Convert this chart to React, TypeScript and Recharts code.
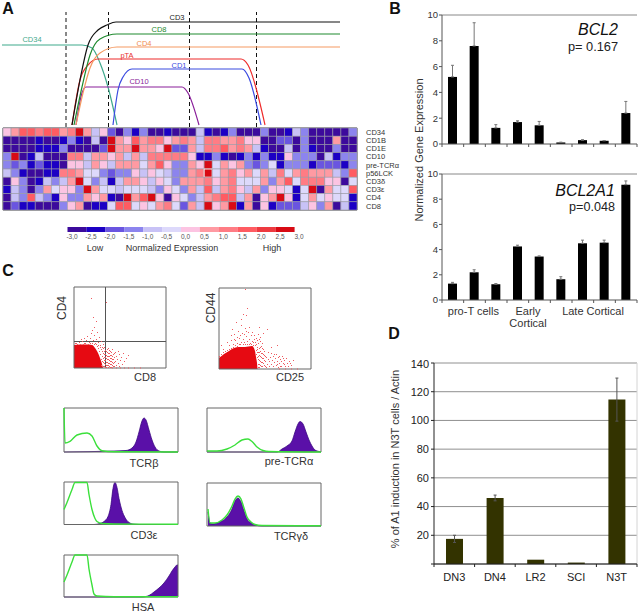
import {
  Area,
  Bar,
  BarChart,
  CartesianGrid,
  ComposedChart,
  ErrorBar,
  Line,
  LineChart,
  ReferenceArea,
  ReferenceLine,
  Scatter,
  ScatterChart,
  XAxis,
  YAxis,
} from "recharts";

const FONT = "'Liberation Sans', Arial, sans-serif";

// Panel A: schematic expression curves, [stage, level]
const CD3_CURVE = [[72, 2], [80, 47], [88, 82], [98, 97], [107, 102], [116, 105], [340, 105]];
const CD8_CURVE = [[74, 2], [82, 40], [90, 72], [100, 88], [117, 93], [340, 93]];
const CD4_CURVE = [[76, 2], [83, 34], [90, 59], [100, 74], [117, 80], [340, 80]];
const PTA_CURVE = [[72, 2], [80, 47], [88, 62], [98, 68], [241, 68], [248, 62], [265, 2]];
const CD1_CURVE = [[113, 2], [118, 37], [123, 50], [132, 58], [242, 58], [249, 49], [261, 2]];
const CD10_CURVE = [[76, 2], [82, 34], [86, 40], [182, 40], [188, 34], [199, 2]];
const CD34_CURVE = [[2, 82], [82, 82], [92, 79], [100, 64], [108, 40], [117, 2]];
const STAGE_LINES = [66, 108.5, 189.5, 256.5];

// Panel A: heatmap
const GENES = ["CD34", "CD1B", "CD1E", "CD10", "pre-TCRα", "p56LCK", "CD3δ", "CD3ε", "CD4", "CD8"];
const R_CD34 = [0.2, 0.7, 1.7, 1.7, 1.2, 1.7, 1.7, 0.7, 1.2, 2.7, 0.7, -0.8, 0.2, -1.8, -2.8, -1.3, -2.3, -1.3, -2.8, -2.8, -2.3, -2.8, -2.8, -2.8, -0.8, -2.3, -2.8, -2.3, -1.3, -2.8, -2.8, -2.8, -1.5, -2.8, -2.8, -2.3, -0.8, -1.3, -2.8, -2.8, -2.8, -2.8, -2.8, -1.5];
const R_CD1B = [-2.8, -2.8, -2.8, -2.8, -2.3, -2.8, -2.8, -2.3, -1.5, -2.3, -2.8, -0.8, -2.8, 2.7, 0.7, 0.2, 1.7, 0.7, 1.2, 1.2, 0.2, 0.7, 1.2, 0.7, -0.8, 1.2, 1.2, 0.7, 0.7, 1.2, 0.2, 0.2, -2.8, -2.8, -1.8, -1.8, -2.8, -1.3, -2.8, -2.8, -2.8, 0.7, -2.8, -2.8];
const R_CD1E = [-2.8, -2.8, -2.8, -2.8, -2.3, -2.3, -2.3, -1.5, -2.8, -2.8, -2.8, -2.8, -1.8, 2.7, 0.7, 0.7, 2.7, 0.7, 0.7, 0.2, 2.7, -1.8, -1.8, 0.7, -0.8, 1.2, 1.2, 1.7, 0.7, 1.2, 0.7, -0.8, -2.3, -2.8, -2.8, -0.8, -2.8, -1.3, -2.3, -2.8, -2.8, -1.3, -2.8, -2.8];
const R_CD10 = [-1.3, 2.7, -2.8, -2.3, -0.8, -2.8, -2.8, -2.8, 1.2, 1.2, -0.8, 0.7, 0.7, 0.2, 0.7, -0.8, 0.7, -0.8, 1.2, 1.2, 1.2, 1.2, 1.2, 0.2, -2.3, -2.3, -1.5, -2.3, -2.8, -2.3, -1.5, -2.3, -1.5, -2.3, -2.3, 0.2, -1.5, -1.3, -1.3, -2.8, -0.8, -2.3, -1.5, -1.3];
const R_PTCR = [-1.3, -1.8, -1.3, -2.3, -1.8, -2.3, -2.3, -2.8, 0.2, 0.2, -0.8, 0.7, 0.2, -0.8, 0.7, 0.7, 0.7, -0.5, 0.7, 1.7, 0.2, -1.3, -1.3, 0.7, 0.2, 2.7, -0.5, 0.7, 0.2, 0.7, -1.3, -1.8, -1.3, -0.5, -2.3, -1.3, -1.3, -1.3, -2.3, -1.8, -1.8, -1.8, -2.3, -1.5];
const R_P56 = [-0.8, -1.3, -2.3, -2.8, -2.8, -2.3, -2.3, 1.2, 1.2, 0.7, -0.5, -0.5, -1.3, -1.8, -1.3, -1.3, 0.2, -0.8, 0.2, -0.5, -0.8, -1.3, -1.3, 0.7, 1.2, 2.7, -0.5, 0.7, 1.2, 0.2, 0.7, -0.5, 0.7, -0.8, 1.2, -0.5, 0.7, 1.2, 0.7, 0.7, 0.7, -0.8, -1.3, 1.7];
const R_CD3D = [-2.8, 0.2, -1.5, -2.8, -2.3, -0.8, -1.3, -0.8, 0.7, 2.7, -0.5, -1.5, -0.8, -2.3, -0.8, 0.7, 0.7, 0.2, -0.8, 0.2, -0.5, -1.5, 0.7, 0.7, 0.7, 1.2, 0.2, 0.7, 1.2, -0.5, -0.5, -0.5, 0.7, -1.3, 0.7, 1.7, -0.5, 1.2, 1.2, 1.2, 0.2, 0.2, -2.8, -0.5];
const R_CD3E = [-2.3, -0.8, -1.5, -2.8, -1.3, 0.7, -0.5, 0.2, 0.2, -1.3, 2.7, 0.7, -0.5, -0.5, -0.8, -0.5, -0.5, -0.5, -0.8, -1.3, 0.2, -0.5, -1.5, 0.7, -0.8, 1.7, -0.8, 0.7, 1.2, 0.2, -0.8, 0.7, -1.5, 0.2, 0.2, -0.5, -2.3, -0.5, 2.7, -2.8, 0.7, -0.5, -0.5, 1.7];
const R_CD4 = [-2.8, -0.8, -1.5, 1.7, -0.8, -1.3, -2.3, 0.2, -1.3, -1.5, 0.7, 0.2, 0.7, -2.3, -2.8, 2.7, 0.7, 1.7, 2.7, 0.2, -2.8, 0.2, -0.5, -1.3, -0.8, 0.7, 1.2, 1.7, 1.7, -0.8, 0.7, -2.8, 0.2, 0.7, 2.7, 0.2, -2.3, -0.5, 0.7, -0.5, 0.2, -0.5, -0.5, -2.3];
const R_CD8 = [-2.8, -1.8, -2.3, -2.3, -2.8, -2.8, -2.8, -1.5, 0.2, 0.7, -2.8, -2.3, -2.3, -0.5, 1.7, 1.7, -0.5, 0.2, -0.5, 0.7, 1.2, -0.5, -1.8, 0.7, -0.8, 2.7, 0.2, 0.7, 2.7, -2.3, 0.7, -2.8, 0.2, -2.3, -1.8, -1.8, -1.8, -0.8, 0.2, -1.5, 0.7, -2.8, -0.8, -2.3];
const HEAT_ROWS = [R_CD34, R_CD1B, R_CD1E, R_CD10, R_PTCR, R_P56, R_CD3D, R_CD3E, R_CD4, R_CD8];

const SCALE_STEPS = [-3, -2.5, -2, -1.5, -1, -0.5, 0, 0.5, 1, 1.5, 2, 2.5];
const SCALE_COLORS = ["#3c0a9c", "#1c00c4", "#6a55e0", "#8c84ee", "#c8c2f6", "#ddd9fb", "#fcc4e2", "#ff9aa2", "#ff7c84", "#ff5c62", "#ee3a40", "#d80a14"];
const SCALE_TICKS = [-3, -2.5, -2, -1.5, -1, -0.5, 0, 0.5, 1, 1.5, 2, 2.5, 3];

// Panel B
const BCL2 = [5.2, 7.6, 1.25, 1.7, 1.45, 0.12, 0.3, 0.25, 2.4];
const BCL2_ERR = [0.9, 1.8, 0.25, 0.1, 0.3, 0.02, 0.03, 0.02, 0.9];
const BCL2A1 = [1.3, 2.2, 1.25, 4.25, 3.45, 1.65, 4.5, 4.55, 9.15];
const BCL2A1_ERR = [0.1, 0.2, 0.05, 0.1, 0.05, 0.2, 0.25, 0.2, 0.3];
const STAGE_TICKS = [0, 1, 1.45, 2, 3, 3.97, 4, 5, 6, 6.97, 7, 8, 9];
const STAGE_GROUPS: Record<number, string[]> = {
  1.45: ["pro-T cells"],
  3.97: ["Early", "Cortical"],
  6.97: ["Late Cortical"],
};

// Panel D
const D_CATS = ["DN3", "DN4", "LR2", "SCI", "N3T"];
const D_VALUES = [17.5, 46, 3, 1, 114.5];
const D_ERR = [2.5, 2, 0, 0, 15];

// Panel C: dense population outline and the loose events around it, [channel, channel]
const FLOW1_DENSE = [[0, 23], [6, 23.5], [12, 23.5], [18, 23], [21, 20], [24, 15], [26, 10], [28, 4], [29, 0]];
const FLOW1_LOOSE = [[29, 2], [30, 8], [30, 14], [31, 4], [31, 11], [31, 18], [32, 1], [32, 6], [32, 13], [33, 3], [33, 9], [33, 16], [34, 5], [34, 12], [34, 20], [35, 2], [35, 8], [35, 15], [36, 4], [36, 10], [36, 17], [37, 1], [37, 7], [37, 13], [38, 3], [38, 9], [38, 19], [39, 5], [39, 14], [40, 2], [40, 11], [41, 7], [41, 16], [42, 3], [42, 12], [43, 9], [44, 5], [44, 17], [45, 2], [45, 14], [46, 8], [47, 11], [48, 4], [49, 15], [50, 7], [52, 10], [54, 13], [34, 1], [38, 0.5], [42, 0.5], [46, 0.5], [50, 0.5], [54, 0.5], [60, 0.5], [66, 0.5], [2, 25], [5, 26], [8, 27], [10, 25], [12, 28], [13, 32], [15, 26], [16, 30], [17, 35], [18, 25], [18, 38], [19, 28], [20, 33], [20, 41], [21, 25], [22, 29], [23, 36], [24, 26], [25, 31], [26, 23], [27, 27], [10, 30], [7, 29], [29, 24], [17, 70], [32, 66], [19, 51], [22, 47], [27, 3], [27, 9], [28, 7], [28, 12], [28, 17], [29, 6], [29, 10], [29, 15], [29, 20], [30, 2], [30, 5], [30, 11], [30, 17], [30, 21], [31, 1], [31, 8], [31, 14], [32, 3], [32, 10], [32, 17], [33, 6], [33, 12], [33, 19], [34, 3], [34, 9], [34, 15], [35, 5], [35, 12], [35, 18], [36, 1], [36, 7], [36, 13], [37, 4], [37, 10], [37, 16], [38, 6], [38, 12], [39, 2], [39, 9], [40, 6], [40, 15], [25, 17], [26, 14], [27, 19], [24, 20], [23, 22], [22, 24], [20, 24], [16, 25], [14, 24], [11, 25], [9, 24], [6, 24], [3, 24], [1, 25], [24, 23], [26, 21], [28, 21]];
const FLOW2_DENSE = [[0, 11], [5, 15], [10, 18], [15, 21], [20, 22], [26, 22], [33, 23], [36, 18], [37, 12], [38, 6], [38.5, 0]];
const FLOW2_LOOSE = [[38, 22], [39, 26], [40, 30], [41, 32], [38, 29], [37, 25], [36, 27], [35, 30], [34, 24], [33, 28], [32, 34], [31, 26], [30, 30], [29, 37], [28, 25], [27, 33], [26, 41], [25, 27], [24, 30], [23, 36], [22, 44], [21, 25], [20, 31], [19, 38], [18, 26], [17, 47], [16, 29], [15, 35], [14, 25], [13, 40], [12, 29], [10, 24], [8, 27], [4, 20], [2, 24], [39, 2], [39, 10], [39, 17], [40, 5], [40, 14], [40, 21], [41, 8], [41, 18], [42, 3], [42, 12], [42, 23], [43, 7], [43, 16], [44, 11], [44, 20], [45, 4], [45, 14], [46, 8], [47, 2], [47, 12], [48, 5], [49, 10], [49, 17], [50, 3], [50, 8], [51, 12], [52, 5], [52, 16], [53, 9], [54, 3], [54, 13], [55, 7], [56, 11], [57, 4], [57, 15], [58, 8], [59, 2], [59, 12], [60, 6], [61, 10], [62, 3], [62, 8], [63, 13], [64, 6], [65, 9], [66, 3], [67, 11], [68, 6], [70, 8], [72, 4], [74, 9], [60, 0.5], [66, 0.5], [72, 0.5], [78, 0.5], [26, 80], [28, 61], [24, 55], [27, 54], [22, 50], [40, 42], [48, 40], [44, 36], [52, 22], [58, 24], [37, 15], [37, 19], [38, 12], [38, 17], [38, 20], [39, 5], [39, 13], [40, 2], [40, 9], [40, 17], [41, 4], [41, 13], [41, 22], [42, 7], [42, 16], [43, 3], [43, 11], [43, 21], [44, 6], [44, 15], [45, 9], [45, 18], [46, 3], [46, 13], [36, 24], [34, 27], [32, 25], [30, 25], [28, 28], [26, 25], [24, 25], [22, 27], [20, 25], [18, 23], [16, 24], [14, 22], [12, 21], [10, 20], [8, 19], [6, 18], [4, 17], [2, 15], [0, 13], [35, 34], [33, 37], [30, 42], [27, 38], [25, 35], [21, 34], [18, 32], [15, 30], [12, 34], [37, 31], [39, 35], [41, 28], [43, 26], [55, 15], [60, 13], [64, 11], [58, 5], [61, 3], [65, 5], [69, 3], [71, 6]];

// Panel C: histograms, [channel, count]
const TCRB_FILL = [[0, 0], [50, 1], [62, 1.5], [68, 4], [72, 10], [75, 20], [78, 31], [80, 34], [82, 32], [85, 22], [88, 12], [91, 5], [95, 1], [100, 0], [114, 0]];
const TCRB_CTRL = [[0, 44], [1, 9], [6, 10.7], [13, 17], [23, 19], [28, 16], [33, 6], [38, 1.3], [50, 0.3], [114, 0]];
const PTCR_FILL = [[0, 0], [70, 0], [75, 3], [80, 6], [85, 11], [88, 20], [91, 28], [93, 30.5], [96, 28], [99, 20], [102, 12], [105, 6], [108, 2], [112, 0.5], [114, 0]];
const PTCR_CTRL = [[0, 1], [10, 1], [20, 3], [28, 7], [35, 12], [41, 13], [45, 10.5], [50, 5], [56, 1.5], [62, 0.5], [114, 0]];
const CD3E_FILL = [[0, 0], [30, 0], [36, 1], [40, 3], [44, 8], [47, 20], [49, 36], [51, 42], [53, 37], [55, 26], [58, 14], [61, 7], [65, 2], [70, 0.3], [75, 0], [114, 0]];
const CD3E_CTRL = [[0, 15], [3, 22], [8, 35], [11, 42], [23, 42], [25, 30], [28, 15], [31, 6], [33, 3], [38, 1], [50, 0.5], [114, 0.3]];
const TCRGD_FILL = [[1, 14], [3, 3], [6, 2], [10, 3], [15, 5], [20, 9], [25, 17], [28, 25], [31, 28], [34, 24], [37, 15], [40, 7], [44, 3], [48, 1], [55, 0], [114, 0]];
const TCRGD_CTRL = [[1, 17], [3, 3], [8, 3], [15, 6], [20, 11], [25, 20], [28, 27], [31, 30], [34, 27], [37, 18], [40, 9], [44, 4], [48, 1.5], [55, 0.5], [114, 0.2]];
const HSA_FILL = [[0, 0], [78, 0], [85, 1.5], [90, 5], [95, 9], [100, 14], [105, 21], [108, 26], [111, 30], [113, 32], [114, 32]];
const HSA_CTRL = [[0, 15], [3, 22], [8, 35], [11, 42], [23, 42], [25, 28], [28, 12], [30, 3], [33, 1], [50, 0.3], [114, 0.3]];

const pairs = (rows: number[][]) => rows.map(([x, y]) => ({ x, y }));
const range = (n: number) => Array.from({ length: n + 1 }, (_, i) => i);

function levelColor(v: number) {
  let i = SCALE_STEPS.length - 1;
  while (i > 0 && v < SCALE_STEPS[i]) i--;
  return SCALE_COLORS[i];
}

const heatCells = HEAT_ROWS.flatMap((row, r) =>
  row.map((v, c) => ({ x: c + 0.5, y: r + 0.5, v, mark: r === 5 && c === 25 }))
);
const scaleCells = SCALE_STEPS.map((x, i) => ({ x, y: 0.5, fill: SCALE_COLORS[i] }));

function Txt({ x, y, size = 11, color = "#333", rotate = 0, bold = false, italic = false, children }: any) {
  return (
    <span
      style={{
        position: "absolute",
        left: x,
        top: y,
        transform: `translate(-50%,-50%) rotate(${rotate}deg)`,
        fontFamily: FONT,
        fontSize: size,
        color,
        lineHeight: 1,
        whiteSpace: "nowrap",
        fontWeight: bold ? 700 : 400,
        fontStyle: italic ? "italic" : "normal",
      }}
    >
      {children}
    </span>
  );
}

function Curves() {
  const series = [
    [CD34_CURVE, "#3fa98c"],
    [CD10_CURVE, "#8a1f9a"],
    [CD1_CURVE, "#3a4ae0"],
    [PTA_CURVE, "#ee2a2a"],
    [CD4_CURVE, "#f59a62"],
    [CD8_CURVE, "#1e8a2e"],
    [CD3_CURVE, "#111111"],
  ] as const;
  return (
    <div style={{ position: "absolute", left: 0, top: 0 }}>
      <LineChart width={340} height={127} margin={{ top: 0, right: 0, bottom: 0, left: 0 }}>
        <XAxis type="number" dataKey="x" domain={[0, 340]} hide />
        <YAxis type="number" domain={[0, 127]} hide />
        {STAGE_LINES.map((s) => (
          <ReferenceLine
            key={s}
            segment={[{ x: s, y: 0 }, { x: s, y: 115 }]}
            stroke="#111"
            strokeDasharray="4 3"
          />
        ))}
        {series.map(([curve, color], i) => (
          <Line
            key={i}
            data={pairs(curve as any)}
            dataKey="y"
            type="monotone"
            stroke={color}
            strokeWidth={1.2}
            dot={false}
            activeDot={false}
            isAnimationActive={false}
          />
        ))}
      </LineChart>
    </div>
  );
}

function Heatmap() {
  return (
    <div style={{ position: "absolute", left: 1, top: 126 }}>
      <ScatterChart width={416} height={86} margin={{ top: 2, right: 0, bottom: 2, left: 2 }}>
        <XAxis type="number" dataKey="x" domain={[0, 44]} hide />
        <YAxis
          type="number"
          dataKey="y"
          orientation="right"
          reversed
          domain={[0, 10]}
          ticks={GENES.map((_, i) => i + 0.5)}
          tickFormatter={(v: number) => GENES[Math.floor(v)]}
          interval={0}
          width={60}
          tickLine={false}
          axisLine={false}
          tickMargin={3}
          tick={{ fontSize: 7.5, fill: "#333", fontFamily: FONT, textAnchor: "start" }}
        />
        <Scatter
          data={heatCells}
          isAnimationActive={false}
          shape={(p: any) => (
            <rect
              x={p.cx - 4.02}
              y={p.cy - 4.1}
              width={8.05}
              height={8.2}
              fill={levelColor(p.payload.v)}
              stroke={p.payload.mark ? "#eee" : "#9a9aa6"}
              strokeWidth={p.payload.mark ? 1 : 0.6}
            />
          )}
        />
        <ReferenceArea x1={0} x2={44} y1={0} y2={10} fill="none" stroke="#444" strokeWidth={1} />
      </ScatterChart>
    </div>
  );
}

function ScaleBar() {
  return (
    <div style={{ position: "absolute", left: 60, top: 222 }}>
      <ScatterChart width={250} height={22} margin={{ top: 5, right: 11, bottom: 0, left: 12 }}>
        <XAxis
          type="number"
          dataKey="x"
          domain={[-3, 3]}
          ticks={SCALE_TICKS}
          interval={0}
          height={12}
          tickLine={false}
          axisLine={false}
          tickMargin={0}
          tickFormatter={(v: number) => v.toFixed(1).replace(".", ",")}
          tick={{ fontSize: 6.5, fill: "#555", fontFamily: FONT, dy: -4 }}
        />
        <YAxis type="number" dataKey="y" domain={[0, 1]} hide />
        <Scatter
          data={scaleCells}
          isAnimationActive={false}
          shape={(p: any) => (
            <rect x={p.cx - 4.5} y={p.cy - 2.5} width={19} height={5} fill={p.payload.fill} />
          )}
        />
      </ScatterChart>
    </div>
  );
}

function ExprChart({ values, errs, top, plotBottom, axisHeight, groups }: any) {
  const table = values.map((v: number, i: number) => ({ x: i + 0.5, v, err: [0, errs[i]] }));
  return (
    <div style={{ position: "absolute", left: 420, top }}>
      <BarChart
        width={220}
        height={plotBottom + axisHeight}
        data={table}
        margin={{ top: 5, right: 3, bottom: 0, left: 0 }}
      >
        <ReferenceLine y={10} stroke="#888" />
        <XAxis
          type="number"
          dataKey="x"
          domain={[0, 9]}
          ticks={groups ? STAGE_TICKS : range(9)}
          interval={0}
          height={axisHeight}
          stroke="#555"
          tickLine={false}
          tick={(p: any) => {
            const lines = groups ? STAGE_GROUPS[p.payload.value] : null;
            if (!lines) {
              return <line x1={p.x} x2={p.x} y1={plotBottom} y2={plotBottom + 3} stroke="#555" />;
            }
            return (
              <text textAnchor="middle" fontSize={11} fontFamily={FONT} fill="#333">
                {lines.map((line, i) => (
                  <tspan key={line} x={p.x} y={plotBottom + 15 + i * 12}>
                    {line}
                  </tspan>
                ))}
              </text>
            );
          }}
        />
        <YAxis
          type="number"
          domain={[0, 10]}
          ticks={[0, 2, 4, 6, 8, 10]}
          width={22}
          stroke="#555"
          tickSize={3}
          tickMargin={1}
          tick={{ fontSize: 9.5, fill: "#333", fontFamily: FONT }}
        />
        <Bar dataKey="v" fill="#000" barSize={9} isAnimationActive={false}>
          <ErrorBar dataKey="err" direction="y" stroke="#777" strokeWidth={1} width={1.5} />
        </Bar>
      </BarChart>
    </div>
  );
}

function InductionChart() {
  const table = D_VALUES.map((v, i) => ({ x: i + 0.5, v, err: D_ERR[i] }));
  return (
    <div style={{ position: "absolute", left: 384, top: 358 }}>
      <BarChart
        width={256}
        height={228}
        data={table}
        margin={{ top: 5, right: 3, bottom: 0, left: 0 }}
      >
        <CartesianGrid vertical={false} stroke="#8f8f8f" />
        <ReferenceLine y={140} stroke="#c8c8c8" />
        <ReferenceLine x={5} stroke="#d4d4d4" />
        <XAxis
          type="number"
          dataKey="x"
          domain={[0, 5]}
          ticks={range(10).map((i) => i / 2)}
          interval={0}
          height={22}
          stroke="#222"
          tickLine={false}
          tick={(p: any) => {
            const v = p.payload.value;
            return Number.isInteger(v) ? (
              <line x1={p.x} x2={p.x} y1={206} y2={209} stroke="#222" />
            ) : (
              <text x={p.x} y={223} textAnchor="middle" fontSize={11} fontFamily={FONT} fill="#222">
                {D_CATS[Math.floor(v)]}
              </text>
            );
          }}
        />
        <YAxis
          type="number"
          domain={[0, 140]}
          ticks={[0, 20, 40, 60, 80, 100, 120, 140]}
          width={50}
          stroke="#222"
          tickSize={3}
          tickMargin={2}
          tickFormatter={(v: number) => (v === 0 ? "" : String(v))}
          tick={{ fontSize: 11, fill: "#222", fontFamily: FONT }}
        />
        <Bar dataKey="v" fill="#333300" barSize={17} isAnimationActive={false}>
          <ErrorBar dataKey="err" direction="y" stroke="#555" strokeWidth={1} width={1.5} />
        </Bar>
      </BarChart>
    </div>
  );
}

function DotPlot({ left, top, dense, loose, gates }: any) {
  return (
    <div style={{ position: "absolute", left: left - 2, top: top - 2 }}>
      <ComposedChart
        width={96}
        height={85}
        data={pairs(dense)}
        margin={{ top: 2, right: 2, bottom: 2, left: 2 }}
      >
        <XAxis type="number" dataKey="x" domain={[0, 92]} hide />
        <YAxis type="number" domain={[0, 81]} hide />
        <Area
          dataKey="y"
          type="monotone"
          fill="#e60a12"
          fillOpacity={1}
          stroke="none"
          dot={false}
          activeDot={false}
          isAnimationActive={false}
        />
        <Scatter
          data={pairs(loose)}
          dataKey="y"
          isAnimationActive={false}
          shape={(p: any) => <rect x={p.cx} y={p.cy} width={1} height={1} fill="#ee5a60" />}
        />
        {gates && <ReferenceLine x={gates[0]} stroke="#555" />}
        {gates && <ReferenceLine y={gates[1]} stroke="#555" />}
        <ReferenceArea x1={0} x2={92} y1={0} y2={81} fill="none" stroke="#666" />
      </ComposedChart>
    </div>
  );
}

function Histogram({ left, top, h, fillData, ctrl }: any) {
  return (
    <div style={{ position: "absolute", left: left - 2, top: top - 2 }}>
      <ComposedChart
        width={118}
        height={h + 4}
        data={pairs(fillData)}
        margin={{ top: 2, right: 2, bottom: 2, left: 2 }}
      >
        <XAxis type="number" dataKey="x" domain={[0, 114]} hide />
        <YAxis type="number" domain={[0, h]} hide />
        <Area
          dataKey="y"
          type="monotone"
          fill="#5a10a8"
          fillOpacity={1}
          stroke="#3a0880"
          strokeWidth={0.8}
          dot={false}
          activeDot={false}
          isAnimationActive={false}
        />
        <Line
          data={pairs(ctrl)}
          dataKey="y"
          type="monotone"
          stroke="#3be03b"
          strokeWidth={1.4}
          dot={false}
          activeDot={false}
          isAnimationActive={false}
        />
        <ReferenceArea x1={0} x2={114} y1={0} y2={h} fill="none" stroke="#666" />
      </ComposedChart>
    </div>
  );
}

export default function App() {
  return (
    <div style={{ position: "absolute", left: 0, top: 0, width: 640, height: 613, background: "#fff", overflow: "hidden" }}>
      <Curves />
      <Heatmap />
      <ScaleBar />
      <ExprChart values={BCL2} errs={BCL2_ERR} top={10} plotBottom={134} axisHeight={8} />
      <ExprChart values={BCL2A1} errs={BCL2A1_ERR} top={169} plotBottom={131} axisHeight={32} groups />
      <InductionChart />
      <DotPlot left={74} top={287} dense={FLOW1_DENSE} loose={FLOW1_LOOSE} gates={[31.5, 26.5]} />
      <DotPlot left={219} top={288} dense={FLOW2_DENSE} loose={FLOW2_LOOSE} />
      <Histogram left={64} top={408} h={44} fillData={TCRB_FILL} ctrl={TCRB_CTRL} />
      <Histogram left={207} top={408} h={44} fillData={PTCR_FILL} ctrl={PTCR_CTRL} />
      <Histogram left={64} top={482} h={42.5} fillData={CD3E_FILL} ctrl={CD3E_CTRL} />
      <Histogram left={207} top={483} h={43} fillData={TCRGD_FILL} ctrl={TCRGD_CTRL} />
      <Histogram left={64} top={555} h={42} fillData={HSA_FILL} ctrl={HSA_CTRL} />

      <Txt x={8} y={9} size={16} bold color="#111">A</Txt>
      <Txt x={395} y={9} size={16} bold color="#111">B</Txt>
      <Txt x={8} y={271} size={16} bold color="#111">C</Txt>
      <Txt x={394} y={334} size={16} bold color="#111">D</Txt>

      <Txt x={177} y={18} size={7.5} color="#222">CD3</Txt>
      <Txt x={159} y={30} size={7.5} color="#1e8a2e">CD8</Txt>
      <Txt x={144} y={44} size={7.5} color="#f08a50">CD4</Txt>
      <Txt x={127} y={56} size={7.5} color="#e83030">pTA</Txt>
      <Txt x={179} y={66} size={7.5} color="#3a4ae0">CD1</Txt>
      <Txt x={139} y={82} size={7.5} color="#8a1f9a">CD10</Txt>
      <Txt x={32} y={40} size={7.5} color="#3fa98c">CD34</Txt>

      <Txt x={95} y={248} size={9}>Low</Txt>
      <Txt x={172} y={248} size={9}>Normalized Expression</Txt>
      <Txt x={272} y={248} size={9}>High</Txt>

      <Txt x={598} y={30} size={16} italic color="#111">BCL2</Txt>
      <Txt x={593} y={47} size={12.8} color="#222">p= 0.167</Txt>
      <Txt x={585} y={191} size={16} italic color="#111">BCL2A1</Txt>
      <Txt x={592} y={207} size={12.6} color="#222">p=0.048</Txt>
      <Txt x={419} y={150} size={11} rotate={-90}>Normalized Gene Expression</Txt>
      <Txt x={395} y={459} size={11} rotate={-90}>% of A1 induction in N3T cells / Actin</Txt>

      <Txt x={62} y={308} size={12} rotate={-90}>CD4</Txt>
      <Txt x={145} y={377} size={11}>CD8</Txt>
      <Txt x={211} y={308} size={12} rotate={-90}>CD44</Txt>
      <Txt x={290} y={377} size={11}>CD25</Txt>
      <Txt x={144} y={463} size={11}>TCRβ</Txt>
      <Txt x={289} y={461} size={11}>pre-TCRα</Txt>
      <Txt x={144} y={535} size={11}>CD3ε</Txt>
      <Txt x={291} y={536} size={11}>TCRγδ</Txt>
      <Txt x={143} y={607} size={11}>HSA</Txt>
    </div>
  );
}
